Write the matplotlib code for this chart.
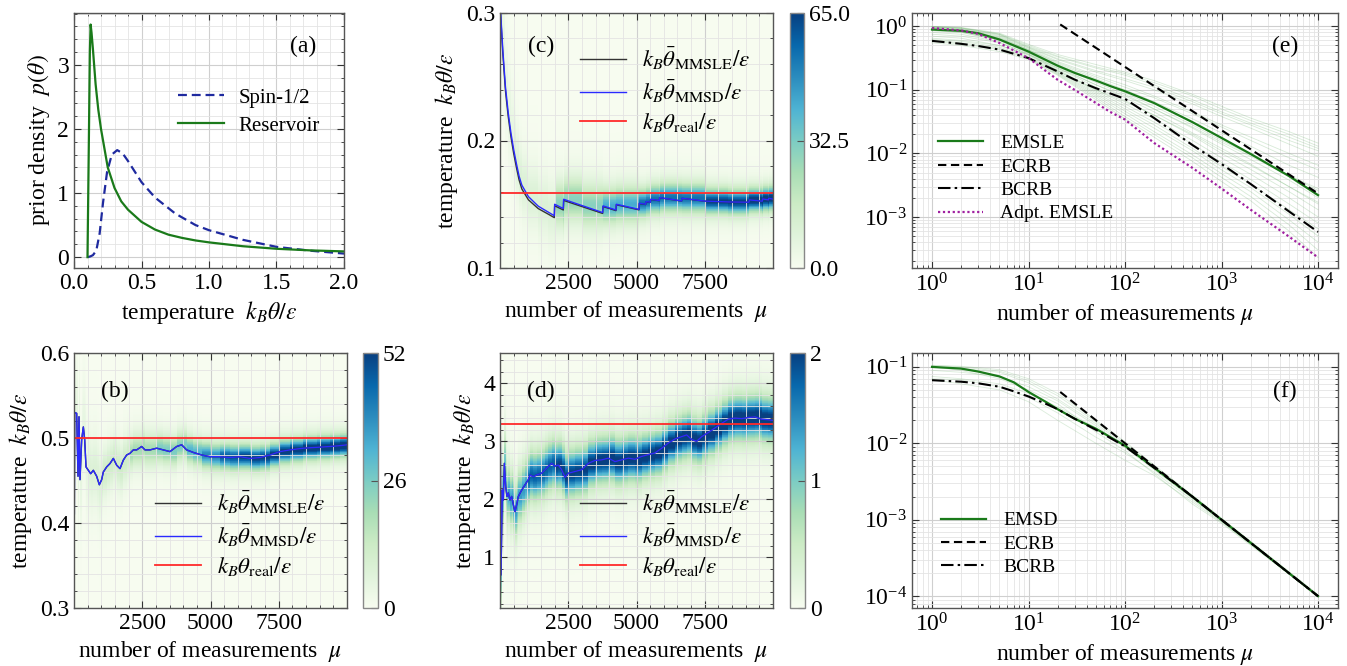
import numpy as np
import matplotlib
matplotlib.use('Agg')
import matplotlib.pyplot as plt
from matplotlib.ticker import MultipleLocator, FixedLocator, LogLocator, NullFormatter

plt.rcParams.update({
    'font.family': ['Liberation Serif', 'DejaVu Serif'],
    'mathtext.fontset': 'stix',
    'font.size': 17,
    'xtick.direction': 'in', 'ytick.direction': 'in',
    'xtick.top': True, 'ytick.right': True,
    'xtick.minor.visible': True, 'ytick.minor.visible': True,
    'xtick.major.size': 5, 'ytick.major.size': 5,
    'xtick.minor.size': 2.5, 'ytick.minor.size': 2.5,
    'axes.edgecolor': '#444444', 'axes.linewidth': 1.0,
    'xtick.labelsize': 17, 'ytick.labelsize': 17,
    'axes.labelsize': 17,
})

# ---------------- data: panel (a) prior densities ----------------
theta_res = [0.1, 0.11, 0.1175, 0.123, 0.13, 0.14, 0.16, 0.18, 0.2, 0.25, 0.3, 0.35, 0.4,
             0.5, 0.6, 0.7, 0.8, 0.9, 1.0, 1.25, 1.5, 1.75, 2.0]
p_res = [0.0, 1.8, 3.2, 3.63, 3.5, 3.25, 2.7, 2.3, 2.0, 1.4, 1.08, 0.87, 0.74,
         0.55, 0.43, 0.35, 0.3, 0.26, 0.23, 0.17, 0.13, 0.105, 0.089]
theta_spin = [0.1, 0.12, 0.14, 0.165, 0.19, 0.215, 0.245, 0.28, 0.32, 0.36, 0.4, 0.5,
              0.6, 0.75, 0.9, 1.0, 1.25, 1.5, 1.75, 2.0]
p_spin = [0.0, 0.01, 0.03, 0.1, 0.37, 0.85, 1.33, 1.6, 1.67, 1.62, 1.5, 1.17,
          0.93, 0.68, 0.5, 0.42, 0.27, 0.16, 0.1, 0.055]

# ---------------- data: panel (b) ----------------
mu_b = [0, 3, 12, 24, 98, 147, 183, 220, 281, 342, 391, 440, 525, 611, 708, 830, 928, 1013,
        1074, 1197, 1319, 1441, 1563, 1685, 1807, 1929, 2051, 2173, 2295, 2479, 2601, 2784,
        3028, 3272, 3516, 3761, 3944, 4127, 4371, 4676, 4982, 5348, 5714, 6081, 6447, 6813,
        7179, 7546, 7912, 8400, 8889, 9377, 9744, 10000]
mmsd_b = [0.62, 0.60, 0.41, 0.53, 0.529, 0.455, 0.525, 0.451, 0.498, 0.513, 0.498, 0.466,
          0.462, 0.458, 0.462, 0.455, 0.445, 0.451, 0.460, 0.466, 0.470, 0.476, 0.468, 0.464,
          0.474, 0.480, 0.482, 0.486, 0.486, 0.490, 0.486, 0.486, 0.488, 0.486, 0.484, 0.490,
          0.492, 0.486, 0.483, 0.480, 0.478, 0.478, 0.477, 0.478, 0.476, 0.477, 0.480, 0.484,
          0.486, 0.488, 0.489, 0.490, 0.491, 0.492]
real_b = 0.5
band_edges_b = [0, 500, 1000, 2000, 3000, 4000, 4500, 5000, 6000, 7000, 8000, 9000]
band_width_b = [0.04, 0.03, 0.02, 0.014, 0.012, 0.011, 0.0105, 0.01, 0.0095, 0.009, 0.0088, 0.0085]
band_peak_b = [5, 8, 12, 20, 26, 32, 40, 48, 52, 54, 56, 58]

# ---------------- data: panel (c) ----------------
mu_c = [0, 25, 100, 200, 300, 400, 500, 600, 700, 800, 1040, 1400, 1770, 1990, 2002, 2320,
        2332, 3000, 3760, 3773, 4249, 4261, 5092, 5104, 5336, 5348, 5507, 5519, 5836, 5849,
        6654, 6667, 7500, 8364, 9121, 9133, 9609, 9621, 9829, 9841, 10000]
mmsd_c = [0.31, 0.30, 0.272, 0.242, 0.222, 0.206, 0.193, 0.182, 0.172, 0.165, 0.156, 0.1485,
          0.1438, 0.141, 0.150, 0.1466, 0.1539, 0.149, 0.1435, 0.1487, 0.1455, 0.150, 0.146,
          0.1508, 0.150, 0.1521, 0.1516, 0.1539, 0.1529, 0.1552, 0.1526, 0.1547, 0.1525,
          0.1518, 0.1516, 0.1534, 0.1524, 0.1542, 0.1534, 0.1547, 0.154]
mmsle_c = [0.309, 0.298, 0.269, 0.239, 0.219, 0.203, 0.190, 0.179, 0.169, 0.162, 0.1535, 0.1466,
           0.1422, 0.1395, 0.1488, 0.1455, 0.1530, 0.1482, 0.1428, 0.1482, 0.1450, 0.1496, 0.1456,
           0.1505, 0.1498, 0.1519, 0.1514, 0.1537, 0.1528, 0.1551, 0.1525, 0.1546, 0.1524,
           0.1517, 0.1515, 0.1533, 0.1523, 0.1541, 0.1533, 0.1546, 0.1539]
real_c = 0.159
band_edges_c = [0, 500, 2000, 3750, 5100, 6700, 8500]
band_width_c = [0.025, 0.018, 0.012, 0.0095, 0.0075, 0.0065, 0.006]
band_peak_c = [6, 10, 30, 42, 55, 65, 70]

# ---------------- data: panel (d) ----------------
mu_d = [0, 12, 37, 85, 122, 159, 208, 256, 305, 366, 427, 488, 549, 611, 672, 794, 916, 1038,
        1099, 1221, 1343, 1526, 1648, 1770, 1893, 2015, 2137, 2259, 2381, 2503, 2747, 2991,
        3236, 3480, 3724, 3968, 4212, 4457, 4701, 4945, 5189, 5433, 5678, 5922, 6166, 6410,
        6654, 6838, 7021, 7204, 7387, 7631, 7875, 8120, 8364, 8608, 8852, 9096, 9340, 9585,
        9829, 10000]
mmsd_d = [3.3, 3.08, 0.7, 2.16, 1.99, 2.62, 2.22, 2.05, 2.11, 1.99, 2.05, 1.91, 1.79, 1.91,
          2.05, 2.16, 2.25, 2.34, 2.42, 2.39, 2.42, 2.45, 2.51, 2.57, 2.62, 2.57, 2.59, 2.51,
          2.38, 2.45, 2.48, 2.51, 2.62, 2.67, 2.68, 2.71, 2.65, 2.68, 2.71, 2.69, 2.74, 2.77,
          2.80, 2.88, 2.97, 3.04, 3.08, 3.11, 3.03, 3.00, 3.08, 3.15, 3.23, 3.31, 3.38, 3.40,
          3.39, 3.41, 3.42, 3.38, 3.37, 3.36]
real_d = 3.3
band_edges_d = [0, 300, 1000, 2000, 3000, 5000, 7500]
band_width_d = [0.35, 0.3, 0.27, 0.26, 0.25, 0.24, 0.24]
band_peak_d = [1.1, 1.4, 1.8, 2.0, 2.1, 2.15, 2.2]

# ---------------- data: panel (e) ----------------
mu_e = [1, 2, 3, 5, 10, 20, 30, 50, 70, 100, 200, 500, 1000, 2000, 5000, 10000]
emsle_e = [0.89, 0.85, 0.78, 0.62, 0.40, 0.24, 0.185, 0.14, 0.115, 0.095, 0.062, 0.031,
           0.0175, 0.0098, 0.0044, 0.0022]
bcrb_e = [0.59, 0.53, 0.49, 0.43, 0.316, 0.195, 0.145, 0.106, 0.088, 0.072, 0.036, 0.0135,
          0.0068, 0.0033, 0.00122, 0.00058]
adpt_e = [0.94, 0.86, 0.76, 0.545, 0.316, 0.144, 0.1, 0.062, 0.045, 0.034, 0.0146, 0.0059,
          0.0028, 0.0013, 0.00049, 0.00023]
mu_ecrb_e = [21.3, 10000]
ecrb_e = [1.07, 0.00234]
mu_thin_e = [1, 2, 5, 10, 20, 50, 100, 200, 500, 1000, 2000, 5000, 10000]
thin_e = [
    [1.0, 0.95, 0.75, 0.48, 0.33, 0.22, 0.17, 0.12, 0.07, 0.045, 0.03, 0.018, 0.012],
    [0.98, 0.92, 0.72, 0.46, 0.3, 0.19, 0.14, 0.1, 0.06, 0.038, 0.025, 0.014, 0.009],
    [0.95, 0.9, 0.7, 0.45, 0.28, 0.17, 0.12, 0.08, 0.045, 0.028, 0.018, 0.01, 0.0065],
    [0.93, 0.88, 0.68, 0.43, 0.26, 0.15, 0.1, 0.065, 0.035, 0.021, 0.013, 0.0065, 0.0042],
    [0.9, 0.85, 0.65, 0.42, 0.25, 0.14, 0.09, 0.055, 0.028, 0.016, 0.0095, 0.0045, 0.0026],
    [0.88, 0.82, 0.62, 0.4, 0.23, 0.12, 0.075, 0.045, 0.021, 0.012, 0.0068, 0.003, 0.0016],
    [0.85, 0.8, 0.6, 0.38, 0.21, 0.1, 0.06, 0.035, 0.016, 0.0085, 0.0047, 0.002, 0.001],
    [0.7, 0.65, 0.5, 0.35, 0.19, 0.09, 0.05, 0.028, 0.012, 0.0062, 0.0033, 0.0013, 0.00065],
    [0.6, 0.55, 0.45, 0.32, 0.18, 0.08, 0.042, 0.022, 0.0095, 0.0048, 0.0025, 0.0009, 0.0004],
    [0.55, 0.5, 0.4, 0.3, 0.17, 0.07, 0.035, 0.018, 0.0075, 0.0036, 0.0018, 0.0006, 0.00023],
    [0.65, 0.6, 0.5, 0.36, 0.22, 0.12, 0.08, 0.05, 0.026, 0.015, 0.009, 0.0045, 0.0028],
    [0.96, 0.93, 0.74, 0.47, 0.31, 0.2, 0.15, 0.11, 0.065, 0.042, 0.028, 0.016, 0.011],
    [0.97, 0.94, 0.76, 0.5, 0.34, 0.23, 0.18, 0.13, 0.08, 0.05, 0.033, 0.02, 0.013],
    [0.92, 0.87, 0.66, 0.43, 0.27, 0.16, 0.11, 0.075, 0.042, 0.026, 0.016, 0.0085, 0.0055],
    [0.89, 0.84, 0.63, 0.41, 0.24, 0.13, 0.085, 0.05, 0.025, 0.014, 0.008, 0.0038, 0.002],
    [0.86, 0.81, 0.61, 0.39, 0.22, 0.11, 0.068, 0.04, 0.019, 0.01, 0.0056, 0.0025, 0.0013],
    [0.75, 0.7, 0.55, 0.37, 0.2, 0.095, 0.055, 0.031, 0.014, 0.0072, 0.0039, 0.0016, 0.0008],
    [0.62, 0.58, 0.47, 0.33, 0.185, 0.085, 0.046, 0.025, 0.011, 0.0055, 0.0029, 0.0011, 0.0005],
    [0.58, 0.53, 0.43, 0.31, 0.175, 0.075, 0.038, 0.02, 0.0085, 0.0042, 0.0021, 0.00075, 0.0003],
    [0.8, 0.75, 0.57, 0.36, 0.2, 0.1, 0.065, 0.04, 0.02, 0.011, 0.0065, 0.003, 0.0017],
    [0.99, 0.96, 0.78, 0.52, 0.36, 0.25, 0.19, 0.14, 0.085, 0.055, 0.036, 0.022, 0.0145],
]

# ---------------- data: panel (f) ----------------
mu_f = [1, 2, 3, 5, 7, 10, 15, 20, 30, 50, 100, 200, 500, 1000, 10000]
emsd_f = [0.1, 0.095, 0.087, 0.075, 0.063, 0.047, 0.035, 0.028, 0.021, 0.0155, 0.0093,
          0.0048, 0.002, 0.001, 0.0001]
bcrb_f = [0.067, 0.064, 0.061, 0.055, 0.048, 0.041, 0.033, 0.028, 0.021, 0.015, 0.0091,
          0.0048, 0.002, 0.001, 0.0001]
mu_ecrb_f = [21.3, 10000]
ecrb_f = [0.047, 0.0001]
mu_thin_f = [1, 2, 5, 10, 20, 50, 100, 200, 500, 1000, 10000]
thin_f = [
    [0.105, 0.102, 0.092, 0.07, 0.045, 0.02, 0.0105, 0.0052, 0.0021, 0.00105, 0.000105],
    [0.1, 0.096, 0.085, 0.062, 0.038, 0.018, 0.0095, 0.0049, 0.002, 0.001, 0.0001],
    [0.075, 0.07, 0.06, 0.045, 0.03, 0.016, 0.009, 0.0046, 0.0019, 0.00098, 0.0001],
    [0.07, 0.068, 0.055, 0.04, 0.025, 0.012, 0.0075, 0.0042, 0.0018, 0.00095, 0.0001],
    [0.068, 0.06, 0.05, 0.035, 0.02, 0.01, 0.006, 0.0038, 0.0017, 0.00093, 0.0001],
    [0.1, 0.09, 0.07, 0.05, 0.033, 0.014, 0.008, 0.004, 0.0016, 0.0009, 0.0001],
    [0.104, 0.1, 0.088, 0.066, 0.042, 0.019, 0.01, 0.005, 0.002, 0.001, 0.0001],
    [0.09, 0.085, 0.075, 0.055, 0.036, 0.017, 0.0088, 0.0045, 0.0019, 0.00097, 0.0001],
]

# ---------------- styling ----------------
GREEN = '#1a7a1a'
NAVY = '#1f2a9f'
BLUE = '#2a2aff'
RED = '#ff2a2a'
PURPLE = '#a020a0'
GRID_MAJ = dict(which='major', color='#cfcfcf', linewidth=0.8)
GRID_MIN = dict(which='minor', color='#e4e4e4', linewidth=0.6)

W, H = 1347, 666
fig = plt.figure(figsize=(W / 100, H / 100), dpi=100)


def box(l, t, r, b):
    return [l / W, 1 - b / H, (r - l) / W, (b - t) / H]


def style(ax):
    ax.grid(**GRID_MAJ)
    ax.grid(**GRID_MIN)
    ax.tick_params(which='both', colors='#333333', labelcolor='black')
    for s in ax.spines.values():
        s.set_color('#555555')


def density(ax, mu, center, edges, widths, peaks, ylim, vmax):
    # posterior density band: heavy-tailed profile around the estimate, block-wise width/peak
    mu = np.asarray(mu, float)
    center = np.asarray(center, float)
    yed = np.linspace(ylim[0], ylim[1], 401)
    yc = 0.5 * (yed[1:] + yed[:-1])
    idx = np.searchsorted(edges, mu[:-1], side='right') - 1
    s = np.asarray(widths)[idx]
    pk = np.asarray(peaks)[idx]
    z = (yc[:, None] - center[None, :-1]) / s[None, :]
    C = pk[None, :] * (1 + z ** 2 / 3) ** -2
    return ax.pcolormesh(mu, yed, C, cmap='GnBu', vmin=0, vmax=vmax, shading='flat',
                         rasterized=True, zorder=0)


def heat_panel(ax, cax, mu, mmsle, mmsd, real, edges, widths, peaks, ylim, vmax, cticks, clabels,
               ymaj, ymin, tag, tagpos, legpos):
    m = density(ax, mu, mmsd, edges, widths, peaks, ylim, vmax)
    ax.plot(mu, mmsle, color='#333333', lw=1.0, label=r'$k_B\bar{\theta}_{\rm MMSLE}/\varepsilon$')
    ax.plot(mu, mmsd, color=BLUE, lw=1.0, label=r'$k_B\bar{\theta}_{\rm MMSD}/\varepsilon$')
    ax.axhline(real, color=RED, lw=1.3, label=r'$k_B\theta_{\rm real}/\varepsilon$')
    ax.set_xlim(0, 10000)
    ax.set_ylim(*ylim)
    ax.xaxis.set_major_locator(FixedLocator([2500, 5000, 7500]))
    ax.xaxis.set_minor_locator(MultipleLocator(500))
    ax.yaxis.set_major_locator(MultipleLocator(ymaj))
    ax.yaxis.set_minor_locator(MultipleLocator(ymin))
    style(ax)
    ax.set_xlabel(r'number of measurements  $\mu$')
    ax.set_ylabel(r'temperature  $k_B\theta/\varepsilon$')
    ax.text(tagpos[0], tagpos[1], tag, transform=ax.transAxes, fontsize=17, ha='center', va='center')
    ax.legend(loc='center left', bbox_to_anchor=legpos, frameon=False, fontsize=16.5,
              handlelength=2.0, handletextpad=0.7, labelspacing=0.3,
              borderaxespad=0, borderpad=0)
    cb = fig.colorbar(m, cax=cax, ticks=cticks)
    cb.ax.set_yticklabels(clabels)
    cb.ax.tick_params(direction='in', length=5, labelsize=17, colors='#555555', labelcolor='black')
    cb.ax.minorticks_off()
    cb.outline.set_edgecolor('#888888')
    return ax


# ---------------- (a) ----------------
axa = fig.add_axes(box(74, 13, 344, 268))
axa.plot(theta_spin, p_spin, '--', color=NAVY, lw=1.6, dashes=(4, 2.2), label='Spin-1/2')
axa.plot(theta_res, p_res, '-', color=GREEN, lw=1.6, label='Reservoir')
axa.set_xlim(0, 2.0)
axa.set_ylim(-0.17, 3.81)
axa.xaxis.set_major_locator(MultipleLocator(0.5))
axa.xaxis.set_minor_locator(MultipleLocator(0.1))
axa.yaxis.set_major_locator(MultipleLocator(1))
axa.yaxis.set_minor_locator(MultipleLocator(0.2))
axa.xaxis.set_major_formatter(plt.FormatStrFormatter('%.1f'))
style(axa)
axa.set_xlabel(r'temperature  $k_B\theta/\varepsilon$')
axa.set_ylabel(r'prior density  $p(\theta)$')
axa.text(0.85, 0.87, '(a)', transform=axa.transAxes, fontsize=17, ha='center', va='center')
axa.legend(loc='center left', bbox_to_anchor=(0.385, 0.612), frameon=False, fontsize=15,
           handlelength=2.2, handletextpad=0.7, labelspacing=0.4, borderaxespad=0, borderpad=0)

# ---------------- (b) ----------------
axb = fig.add_axes(box(74, 353, 347, 608))
caxb = fig.add_axes(box(363, 353, 378, 608))
heat_panel(axb, caxb, mu_b, mmsd_b, mmsd_b, real_b, band_edges_b, band_width_b, band_peak_b,
           (0.3, 0.6), 52, [0, 26, 52], ['0', '26', '52'], 0.1, 0.02, '(b)', (0.15, 0.85),
           (0.297, 0.29))

# ---------------- (c) ----------------
axc = fig.add_axes(box(500, 13, 773, 268))
caxc = fig.add_axes(box(790, 13, 804, 268))
heat_panel(axc, caxc, mu_c, mmsle_c, mmsd_c, real_c, band_edges_c, band_width_c, band_peak_c,
           (0.1, 0.3), 65, [0, 32.5, 65], ['0.0', '32.5', '65.0'], 0.1, 0.02, '(c)', (0.15, 0.87),
           (0.293, 0.698))

# ---------------- (d) ----------------
axd = fig.add_axes(box(500, 353, 773, 608))
caxd = fig.add_axes(box(790, 353, 805, 608))
heat_panel(axd, caxd, mu_d, mmsd_d, mmsd_d, real_d, band_edges_d, band_width_d, band_peak_d,
           (0.13, 4.52), 2, [0, 1, 2], ['0', '1', '2'], 1, 0.2, '(d)', (0.15, 0.85),
           (0.293, 0.29))


# ---------------- (e) / (f) ----------------
def log_axes(ax, ylim):
    ax.set_xscale('log')
    ax.set_yscale('log')
    ax.set_xlim(0.62, 16100)
    ax.set_ylim(*ylim)
    ax.xaxis.set_major_locator(LogLocator(base=10, numticks=10))
    ax.xaxis.set_minor_locator(LogLocator(base=10, subs=np.arange(2, 10), numticks=50))
    ax.yaxis.set_major_locator(LogLocator(base=10, numticks=10))
    ax.yaxis.set_minor_locator(LogLocator(base=10, subs=np.arange(2, 10), numticks=50))
    ax.xaxis.set_minor_formatter(NullFormatter())
    ax.yaxis.set_minor_formatter(NullFormatter())
    style(ax)
    ax.set_xlabel(r'number of measurements $\mu$')


axe = fig.add_axes(box(912, 13, 1338, 268))
log_axes(axe, (1.57e-4, 1.62))
for row in thin_e:
    axe.plot(mu_thin_e, row, color='#3a9a3a', lw=0.6, alpha=0.2)
axe.plot(mu_e, emsle_e, '-', color=GREEN, lw=1.6, label='EMSLE')
axe.plot(mu_ecrb_e, ecrb_e, '--', color='black', lw=1.5, dashes=(4, 2.2), label='ECRB')
axe.plot(mu_e, bcrb_e, '-.', color='black', lw=1.5, dashes=(6, 2, 1.2, 2), label='BCRB')
axe.plot(mu_e, adpt_e, ':', color=PURPLE, lw=1.6, dashes=(1, 1.2), label='Adpt. EMSLE')
axe.text(0.875, 0.87, '(e)', transform=axe.transAxes, fontsize=17, ha='center', va='center')
axe.legend(loc='center left', bbox_to_anchor=(0.061, 0.351), frameon=False, fontsize=14,
           handlelength=2.3, handletextpad=0.9, labelspacing=0.3, borderaxespad=0, borderpad=0)

axf = fig.add_axes(box(912, 353, 1338, 608))
log_axes(axf, (7.0e-5, 0.152))
for row in thin_f:
    axf.plot(mu_thin_f, row, color='#3a9a3a', lw=0.6, alpha=0.18)
axf.plot(mu_f, emsd_f, '-', color=GREEN, lw=1.6, label='EMSD')
axf.plot(mu_ecrb_f, ecrb_f, '--', color='black', lw=1.5, dashes=(4, 2.2), label='ECRB')
axf.plot(mu_f, bcrb_f, '-.', color='black', lw=1.5, dashes=(6, 2, 1.2, 2), label='BCRB')
axf.text(0.875, 0.85, '(f)', transform=axf.transAxes, fontsize=17, ha='center', va='center')
axf.legend(loc='center left', bbox_to_anchor=(0.068, 0.251), frameon=False, fontsize=14,
           handlelength=2.3, handletextpad=0.9, labelspacing=0.3, borderaxespad=0, borderpad=0)

fig.savefig('out.png', dpi=100)
